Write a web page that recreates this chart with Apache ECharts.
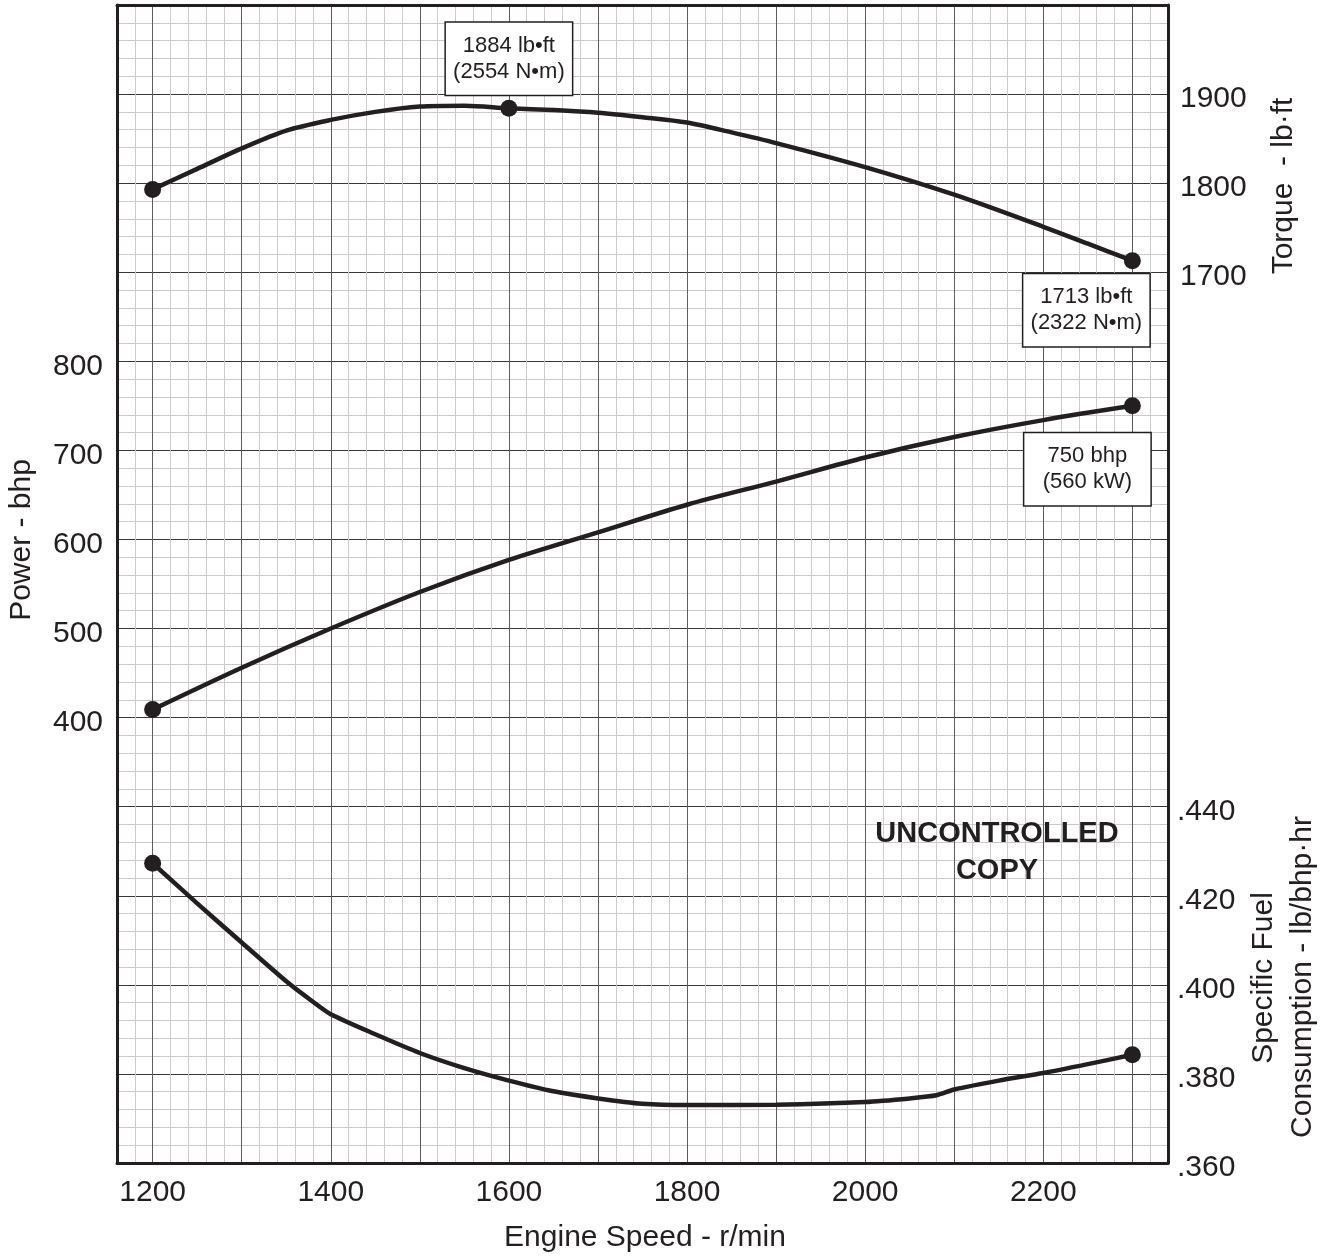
<!DOCTYPE html>
<html><head><meta charset="utf-8">
<script src="https://cdn.jsdelivr.net/npm/echarts@6/dist/echarts.min.js"></script>
<style>html,body{margin:0;padding:0;background:#fff}#c{width:1332px;height:1258px}</style>
</head><body><div id="c"></div>
<script>
// ---- data ----
const torqueRpm  = [1200,1250,1300,1350,1400,1450,1500,1550,1600,1650,1700,1750,1800,1850,1900,2000,2100,2200,2250,2300];
const torqueVals = [1793,1816,1839,1859,1871,1880,1886,1887,1884,1882,1879,1874,1868,1857,1845,1818,1787,1751,1732,1713];

const powerRpm  = [1200,1300,1400,1500,1600,1700,1800,1900,2000,2100,2200,2300];
const powerVals = [409,456,500,541,577,608,639,665,692,715,734,750];

const bsfcRpm  = [1200,1250,1300,1350,1380,1400,1450,1500,1550,1600,1650,1700,1750,1800,1900,2000,2050,2080,2100,2150,2200,2250,2300];
const bsfcVals = [0.4273,0.4183,0.4095,0.4008,0.3962,0.3934,0.3889,0.3847,0.3813,0.3785,0.3761,0.3745,0.3733,0.3730,0.3731,0.3737,0.3745,0.3752,0.3765,0.3785,0.3802,0.3822,0.3843];

const xTickLabels      = [1200,1400,1600,1800,2000,2200];
const powerTickLabels  = [400,500,600,700,800];
const torqueTickLabels = [1700,1800,1900];
const bsfcTickLabels   = [0.36,0.38,0.40,0.42,0.44];

const torqueDots = [1200,1600,2300];
const powerDots  = [1200,2300];
const bsfcDots   = [1200,2300];

const torqueNotes = {1600:'1884 lb•ft\n(2554 N•m)', 2300:'1713 lb•ft\n(2322 N•m)'};
const powerNotes  = {2300:'750 bhp\n(560 kW)'};

// ---- styling ----
const ink = '#231f20';
const font = "'Liberation Sans', Arial, Helvetica, sans-serif";
const minorC = '#cbcbcb';
const majorX = '#5c5c5c';
const majorY = '#3a3a3a';

const boxLabel = {
  show: true, color: ink, fontFamily: font, fontSize: 22, lineHeight: 26,
  width: 110, align: 'center',
  backgroundColor: '#fff', borderColor: ink, borderWidth: 1.5, padding: [10, 8]
};
const noteLayout = {
  1600: {position: 'top', distance: 5, offset: [0, 0]},
  2300: {position: 'bottom', distance: 5, offset: [-46, 0]}
};
const powerNoteLayout = {2300: {position: 'bottom', distance: 19, offset: [-45, 0]}};

function build(rpm, vals, dots, notes, layouts) {
  return rpm.map((r, i) => {
    const item = {value: [r, vals[i]]};
    if (dots.includes(r)) { item.symbol = 'circle'; item.symbolSize = 17; }
    if (notes && notes[r]) {
      item.label = Object.assign({}, boxLabel, layouts[r], {formatter: notes[r]});
    }
    return item;
  });
}

const chart = echarts.init(document.getElementById('c'), null, {renderer: 'canvas'});

const lineCommon = {
  type: 'line', symbol: 'none', showSymbol: true, silent: true,
  lineStyle: {color: ink, width: 4.5}, itemStyle: {color: ink},
  label: {show: false}, emphasis: {disabled: true}, z: 5
};

const yLabelBase = {fontSize: 30, color: ink, fontFamily: font, verticalAlign: 'top', lineHeight: 10};

chart.setOption({
  animation: false,
  backgroundColor: '#fff',
  textStyle: {fontFamily: font, color: ink},
  grid: {left: 117, right: 164, top: 5, bottom: 95, containLabel: false},
  xAxis: [{
    type: 'value', position: 'bottom', min: 1160, max: 2340, interval: 20,
    axisLine: {show: true, onZero: false, lineStyle: {color: ink, width: 3}},
    axisTick: {show: false},
    axisLabel: {
      margin: 15, fontSize: 30, color: ink, fontFamily: font,
      formatter: v => xTickLabels.includes(Math.round(v)) ? String(Math.round(v)) : ''
    },
    splitLine: {show: true, lineStyle: {width: 1, color: [minorC, minorC, majorX, minorC, minorC]}},
    z: 3
  }, {
    type: 'value', position: 'top', min: 1160, max: 2340, interval: 20,
    axisLine: {show: true, onZero: false, lineStyle: {color: ink, width: 3}},
    axisTick: {show: false}, axisLabel: {show: false}, splitLine: {show: false}, z: 3
  }],
  yAxis: [{
    type: 'value', position: 'left', min: -100, max: 1200, interval: 20,
    axisLine: {show: true, onZero: false, lineStyle: {color: ink, width: 3}},
    axisTick: {show: false},
    axisLabel: Object.assign({}, yLabelBase, {
      margin: 14,
      formatter: v => powerTickLabels.includes(Math.round(v)) ? String(Math.round(v)) : ''
    }),
    splitLine: {show: true, lineStyle: {width: 1, color: [majorY, minorC, minorC, minorC, minorC]}},
    z: 3
  }, {
    type: 'value', position: 'right', min: 700, max: 2000, interval: 100,
    axisLine: {show: true, onZero: false, lineStyle: {color: ink, width: 3}},
    axisTick: {show: false},
    axisLabel: Object.assign({}, yLabelBase, {
      margin: 12,
      formatter: v => torqueTickLabels.includes(Math.round(v)) ? String(Math.round(v)) : ''
    }),
    splitLine: {show: false}, z: 3
  }, {
    type: 'value', position: 'right', min: 0.36, max: 0.62, interval: 0.02,
    axisLine: {show: false}, axisTick: {show: false},
    axisLabel: Object.assign({}, yLabelBase, {
      margin: 9,
      formatter: v => bsfcTickLabels.some(t => Math.abs(t - v) < 1e-6) ? '.' + String(Math.round(v * 1000)) : ''
    }),
    splitLine: {show: false}
  }],
  series: [
    Object.assign({}, lineCommon, {name: 'Torque', yAxisIndex: 1, smooth: 0.3,
      data: build(torqueRpm, torqueVals, torqueDots, torqueNotes, noteLayout)}),
    Object.assign({}, lineCommon, {name: 'Power', yAxisIndex: 0, smooth: 0.3,
      data: build(powerRpm, powerVals, powerDots, powerNotes, powerNoteLayout)}),
    Object.assign({}, lineCommon, {name: 'BSFC', yAxisIndex: 2, smooth: 0.25,
      data: build(bsfcRpm, bsfcVals, bsfcDots, null, null)})
  ],
  graphic: [
    {type: 'text', x: 22, y: 540, rotation: Math.PI / 2, z: 10,
      style: {text: 'Power - bhp', font: '30px ' + font, fill: ink, textAlign: 'center', textVerticalAlign: 'middle'}},
    {type: 'text', x: 1284, y: 186, rotation: Math.PI / 2, z: 10,
      style: {text: 'Torque  - lb·ft', font: '30px ' + font, fill: ink, textAlign: 'center', textVerticalAlign: 'middle'}},
    {type: 'text', x: 1264, y: 978, rotation: Math.PI / 2, z: 10,
      style: {text: 'Specific Fuel', font: '30px ' + font, fill: ink, textAlign: 'center', textVerticalAlign: 'middle'}},
    {type: 'text', x: 1303, y: 977, rotation: Math.PI / 2, z: 10,
      style: {text: 'Consumption - lb/bhp·hr', font: '30px ' + font, fill: ink, textAlign: 'center', textVerticalAlign: 'middle'}},
    {type: 'text', x: 645, y: 1238, z: 10,
      style: {text: 'Engine Speed - r/min', font: '30px ' + font, fill: ink, textAlign: 'center', textVerticalAlign: 'middle'}},
    {type: 'text', x: 997, y: 834, z: 10,
      style: {text: 'UNCONTROLLED', font: 'bold 29px ' + font, fill: ink, textAlign: 'center', textVerticalAlign: 'middle'}},
    {type: 'text', x: 997, y: 871, z: 10,
      style: {text: 'COPY', font: 'bold 29px ' + font, fill: ink, textAlign: 'center', textVerticalAlign: 'middle'}}
  ]
});
</script>
</body></html>
